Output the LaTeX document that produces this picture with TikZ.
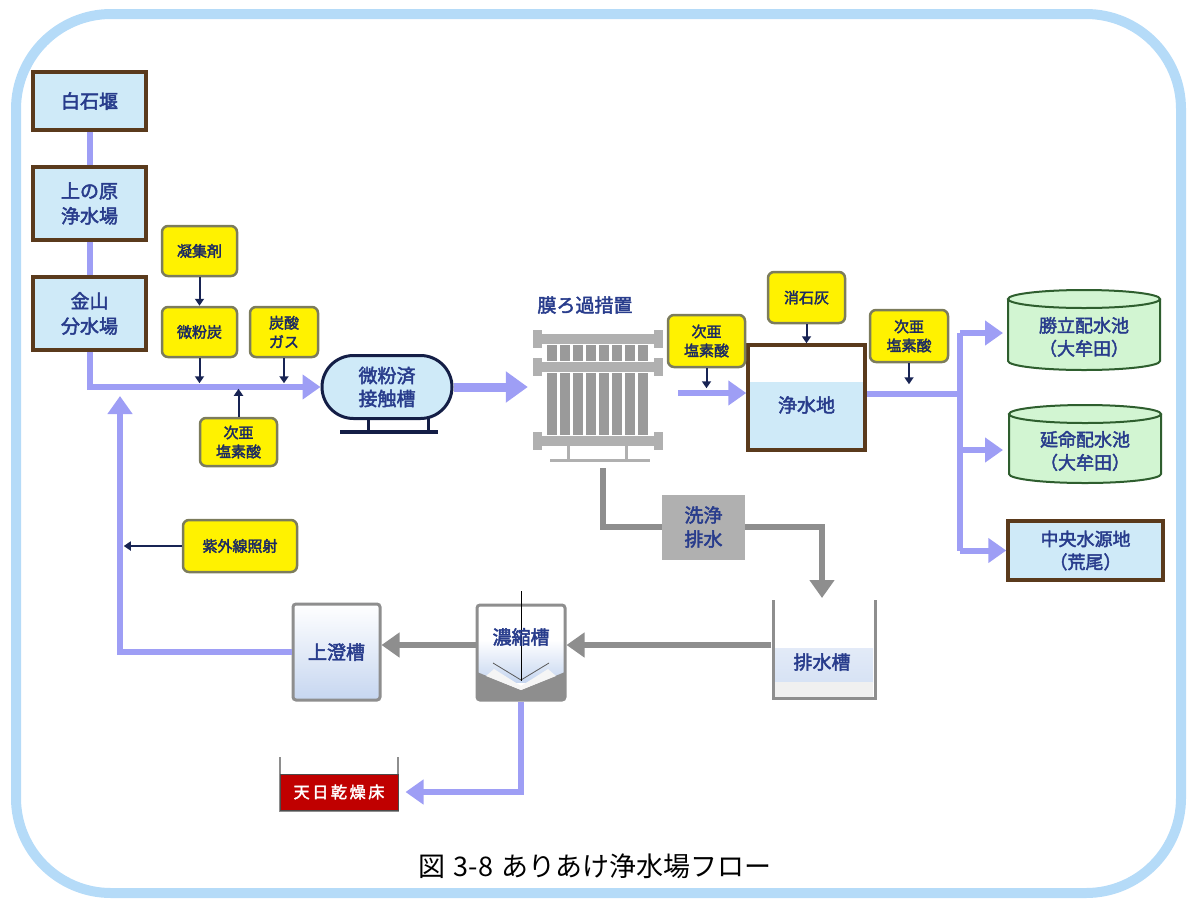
\documentclass[tikz,border=0pt]{standalone}
\usepackage{fontspec}
\setmainfont{Noto Sans CJK JP}
\newfontfamily\jpbold[FakeBold=2.4]{Noto Sans CJK JP}
\usetikzlibrary{arrows.meta, shapes.misc, calc}

\definecolor{frameblue}{HTML}{B5DBF8}
\definecolor{pipeblue}{HTML}{9E9EF5}
\definecolor{tankfill}{HTML}{CFEAF8}
\definecolor{boxbrown}{HTML}{5A3A1C}
\definecolor{labelblue}{HTML}{283C8C}
\definecolor{chemborder}{HTML}{7C7C5C}
\definecolor{filtergray}{HTML}{B0B0B0}
\definecolor{modulegray}{HTML}{9A9A9A}
\definecolor{drainline}{HTML}{8E8E8E}
\definecolor{poolgreen}{HTML}{D2F5D2}
\definecolor{poolborder}{HTML}{2E5E2E}
\definecolor{bedred}{HTML}{C00000}
\definecolor{clearblue}{HTML}{C6D6F0}

\tikzset{
  site/.style={draw=boxbrown, line width=3.5pt, fill=tankfill, text=labelblue,
    font=\jpbold\fontsize{19}{25}\selectfont, align=center, inner sep=0pt},
  chem/.style={draw=chemborder, line width=2.5pt, fill=yellow, rounded corners=6pt,
    text=labelblue!70!black, font=\jpbold\fontsize{15}{19}\selectfont,
    align=center, inner sep=0pt},
  tank/.style={draw=drainline, line width=3pt, rounded corners=3pt, inner sep=0pt},
  tanklabel/.style={text=labelblue, font=\jpbold\fontsize{19}{23}\selectfont, align=center},
  pipe/.style={draw=pipeblue, line width=6pt},
  flow/.style={pipe, -{Triangle[length=18pt,width=24pt]}},
  dose/.style={draw=labelblue!60!black, line width=2pt, -{Triangle[length=7pt,width=9pt]}},
  drain/.style={draw=drainline, line width=6pt, -{Triangle[length=18pt,width=24pt]}},
}

\begin{document}
\begin{tikzpicture}[x=1pt,y=-1pt]
\useasboundingbox (0,0) rectangle (1190,900);
\draw[frameblue, line width=10pt, rounded corners=95pt] (16,14) rectangle (1181,893);

% intake side
\node[site, minimum width=113, minimum height=58] (shiraishi) at (89.5,101) {白石堰};
\node[site, minimum width=113, minimum height=73] (uenohara) at (89.5,203.5) {上の原\\浄水場};
\node[site, minimum width=113, minimum height=73] (kanayama) at (89.5,313.5) {金山\\分水場};
\draw[pipe] (shiraishi.south) -- (uenohara.north);
\draw[pipe] (uenohara.south) -- (kanayama.north);

% chemicals before the contact tank
\node[chem, minimum width=75, minimum height=50] (coag) at (199.5,251) {凝集剤};
\node[chem, minimum width=75, minimum height=50] (carbon) at (199.5,332) {微粉炭};
\node[chem, minimum width=68, minimum height=50] (co2) at (284,332) {炭酸\\ガス};
\node[chem, minimum width=77, minimum height=48] (hypoA) at (238.5,442) {次亜\\塩素酸};

% contact tank
\node[draw=labelblue!50!black, line width=3pt, fill=tankfill, rounded rectangle,
  minimum width=130, minimum height=63, inner sep=0pt, text=labelblue,
  font=\jpbold\fontsize{19}{23}\selectfont, align=center] (contact) at (387,387) {微粉済\\接触槽};
\draw[labelblue!50!black, line width=3pt] (368,418) -- (368,432) (428,418) -- (428,432);
\draw[labelblue!50!black, line width=4pt] (340,432) -- (438,432);

\draw[flow] (kanayama.south) |- (contact.west);
\draw[dose] (coag) -- (carbon);
\draw[dose] (carbon.south) -- ++(0,25);
\draw[dose] (co2.south) -- ++(0,25);
\draw[dose] (hypoA.north) -- ++(0,-28);

% membrane unit
\node[minimum width=130, minimum height=130, inner sep=0pt] (membrane) at (598,395) {};
\node[tanklabel] (memlabel) at (585,305) {膜ろ過措置};
\foreach \y in {339,367,441} {
  \fill[filtergray] (538,\y-5) rectangle (658,\y+5);
  \fill[filtergray] (533,\y-9) rectangle (542,\y+9);
  \fill[filtergray] (654,\y-9) rectangle (663,\y+9);
}
\foreach \i in {0,...,7} {
  \fill[modulegray] (547+\i*13,345) rectangle (557+\i*13,361);
  \fill[modulegray] (547+\i*13,373) rectangle (557+\i*13,435);
}
\draw[filtergray, line width=3pt] (568,446) -- (568,460) (626,446) -- (626,460);
\draw[filtergray, line width=3pt] (550,460) -- (650,460);
\draw[flow, line width=9pt, -{Triangle[length=22pt,width=30pt]}, shorten >=5pt]
  (contact.east) -- (contact.east -| membrane.west);

% backwash water
\node[fill=filtergray, minimum width=83, minimum height=65, inner sep=0pt, text=labelblue,
  font=\jpbold\fontsize{19}{24}\selectfont, align=center] (wash) at (703.5,527) {洗浄\\排水};
\coordinate (memdrain) at (603,468);
\coordinate (pitin) at (822,598);
\draw[draw=drainline, line width=6pt] (memdrain) |- (wash.west);
\draw[drain] (wash.east) -| (pitin);

% clear water reservoir
\fill[tankfill] (750,382) rectangle (863,448);
\node[site, fill=none, minimum width=117, minimum height=105] (purewater) at (806.5,397.5) {};
\node[tanklabel] (purelabel) at (806.5,405) {浄水地};
\node[chem, minimum width=77, minimum height=52] (hypoB) at (706.5,341) {次亜\\塩素酸};
\node[chem, minimum width=77, minimum height=51] (lime) at (806.5,297.5) {消石灰};
\node[chem, minimum width=78, minimum height=52] (hypoC) at (909,336) {次亜\\塩素酸};
\coordinate (memout) at (678,393);
\draw[flow] (memout) -- (memout -| purewater.west);
\draw[dose] (hypoB.south) -- ++(0,20);
\draw[dose] (lime.south) -- (purewater.north -| lime.south);
\draw[dose] (hypoC.south) -- ++(0,21);

% distribution reservoirs
\foreach \cx/\top/\bot in {1084/299/361, 1085/414/474} {
  \fill[poolgreen] (\cx-76,\top) -- (\cx-76,\bot)
    arc[start angle=180, end angle=360, x radius=76pt, y radius=9pt]
    -- (\cx+76,\top) -- cycle;
  \fill[poolgreen] (\cx,\top) ellipse [x radius=76pt, y radius=9pt];
  \draw[poolborder, line width=2pt] (\cx,\top) ellipse [x radius=76pt, y radius=9pt];
  \draw[poolborder, line width=2pt] (\cx-76,\top) -- (\cx-76,\bot)
    arc[start angle=180, end angle=360, x radius=76pt, y radius=9pt] -- (\cx+76,\top);
}
\node[tanklabel, font=\jpbold\fontsize{18}{23}\selectfont] (shoritsu) at (1084,337) {勝立配水池\\（大牟田）};
\node[tanklabel, font=\jpbold\fontsize{18}{23}\selectfont] (enmei) at (1085,451) {延命配水池\\（大牟田）};
\node[site, minimum width=155, minimum height=59, font=\jpbold\fontsize{18}{23}\selectfont] (chuo) at (1085.5,550.5) {中央水源地\\（荒尾）};
\coordinate (shoritsuin) at (1003,333);
\coordinate (enmeiin) at (1003,450);
\draw[pipe] (purewater.east |- 0,394) -- (960,394) coordinate (split);
\draw[pipe] (split |- shoritsuin) -- (split |- chuo.west);
\draw[flow] (split |- shoritsuin) -- (shoritsuin);
\draw[flow] (split |- enmeiin) -- (enmeiin);
\draw[flow] (split |- chuo.west) -- (chuo.west);

% sludge treatment
\node[tank, minimum width=87, minimum height=96, top color=white, bottom color=clearblue,
  text=labelblue, font=\jpbold\fontsize{19}{23}\selectfont] (clear) at (336.5,652) {\raisebox{-12pt}{上澄槽}};
\shade[top color=white, bottom color=clearblue] (477,640) rectangle (565,682);
\fill[drainline] (477,672) -- (521,690) -- (565,672) -- (565,700) -- (477,700) -- cycle;
\fill[gray!8] (494,669) -- (521,686) -- (548,669) -- (556,676) -- (521,690) -- (486,676) -- cycle;
\draw[gray!70!black, line width=0.8pt] (493,663) -- (521,680) -- (549,663);
\node[tank, minimum width=88, minimum height=95] (thick) at (521,652.5) {};
\draw[black, line width=0.8pt] (521,591) -- (521,681);
\node[tanklabel] (thicklabel) at (521,637) {濃縮槽};

\shade[top color=clearblue!50, bottom color=clearblue!70] (775,648) rectangle (873,682);
\fill[gray!12] (775,682) rectangle (873,697);
\draw[drainline, line width=3pt] (773,600) -- (773,698) -- (875,698) -- (875,600);
\node[tanklabel] (drainpit) at (822,662) {排水槽};
\coordinate (pitout) at (771,645);
\draw[drain] (pitout) -- (thick.east |- pitout);
\draw[drain] (thick.west |- pitout) -- (clear.east |- pitout);

\draw[drainline, line width=2.5pt] (280,757) -- (280,811) -- (398,811) -- (398,757);
\node[fill=bedred, draw=gray!60!black, line width=1pt, minimum width=118, minimum height=36,
  inner sep=0pt, text=white, font=\jpbold\fontsize{16}{20}\selectfont] (drybed) at (339,792) {天\,日\,乾\,燥\,床};
\draw[flow, shorten >=7pt] (thick.south) |- (drybed.east);

% return line
\node[chem, minimum width=114, minimum height=52] (uv) at (240,546) {紫外線照射};
\coordinate (returntop) at (120,396);
\draw[flow] (clear.west) -| (returntop);
\draw[dose] (uv.west) -- ++(-58,0);

\node[font=\fontsize{27}{30}\selectfont] (caption) at (595,866) {図\hspace{8pt}3-8\hspace{8pt}ありあけ浄水場フロー};
\end{tikzpicture}
\end{document}
